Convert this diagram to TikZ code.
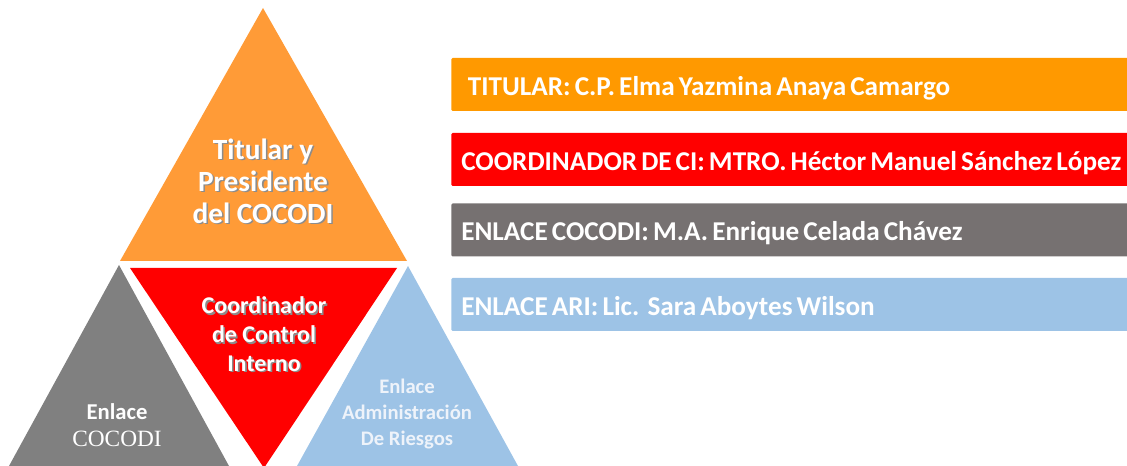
\documentclass[tikz,border=0pt]{standalone}
\usepackage{fontspec}
\setmainfont{Carlito}
\newfontfamily\timesfont{Liberation Serif}
\definecolor{orangetri}{RGB}{255,155,55}
\definecolor{orangebar}{RGB}{255,153,0}
\definecolor{redtri}{RGB}{255,0,0}
\definecolor{graytri}{RGB}{128,128,128}
\definecolor{graybar}{RGB}{118,113,113}
\definecolor{bluetri}{RGB}{157,195,230}
\definecolor{bluetext}{RGB}{238,243,250}
\newcommand{\shd}[1]{\leavevmode\rlap{\hspace{1.2pt}\raisebox{-1.2pt}{\color{black!45}#1}}#1}

\begin{document}
\begin{tikzpicture}[x=0.75pt, y=-0.75pt,
    tritext/.style={align=center, text=white, inner sep=0pt},
    bar/.style={anchor=west, minimum height=39.75pt,
      inner xsep=7.5pt, inner ysep=0pt, text width=520pt, align=left,
      text height=28.1pt, text depth=11.6pt,
      text=white, rounded corners=1pt,
      font=\bfseries\fontsize{20.4}{22}\selectfont,
      execute at begin node={\spaceskip=0.15em plus 0.05em\relax}}]
    \useasboundingbox (0,0) rectangle (1127,466);
    % pyramid
    \fill[orangetri] (263,8) -- (407,261) -- (120,261) -- cycle;
    \fill[redtri] (130,268) -- (397,268) -- (264,468) -- cycle;
    \fill[graytri] (119,265) -- (229,466) -- (9,466) -- cycle;
    \fill[bluetri] (408,266) -- (518,466) -- (297,466) -- cycle;
    \node[tritext, font=\bfseries\fontsize{22}{24}\selectfont] (titular) at (263,182)
      {\shd{Titular y}\\ \shd{Presidente}\\ \shd{del COCODI}};
    \node[tritext, font=\bfseries\fontsize{18}{21.4}\selectfont] (coord) at (264,335)
      {\shd{Coordinador}\\ \shd{de Control}\\ \shd{Interno}};
    \node[tritext, text=bluetext, font=\bfseries\fontsize{15.5}{19.5}\selectfont] (ari) at (407,414)
      {Enlace\\ Administración\\ De Riesgos};
    \node[tritext, font=\fontsize{17}{20}\selectfont] (enlace) at (117,425)
      {\textbf{Enlace}\\ {\timesfont\fontsize{17.5}{20}\selectfont COCODI}};
    % names
    \node[bar, fill=orangebar] (ntitular) at (451,84.5)
      {\hspace{5pt}TITULAR: C.P. Elma Yazmina Anaya Camargo};
    \node[bar, fill=redtri] (ncoord) at (451,159.5)
      {COORDINADOR DE CI: MTRO. Héctor Manuel Sánchez López};
    \node[bar, fill=graybar] (nenlace) at (451,230)
      {ENLACE COCODI: M.A. Enrique Celada Chávez};
    \node[bar, fill=bluetri] (nari) at (451,304.5)
      {ENLACE ARI: Lic.\ \ Sara Aboytes Wilson};
  \end{tikzpicture}
\end{document}
